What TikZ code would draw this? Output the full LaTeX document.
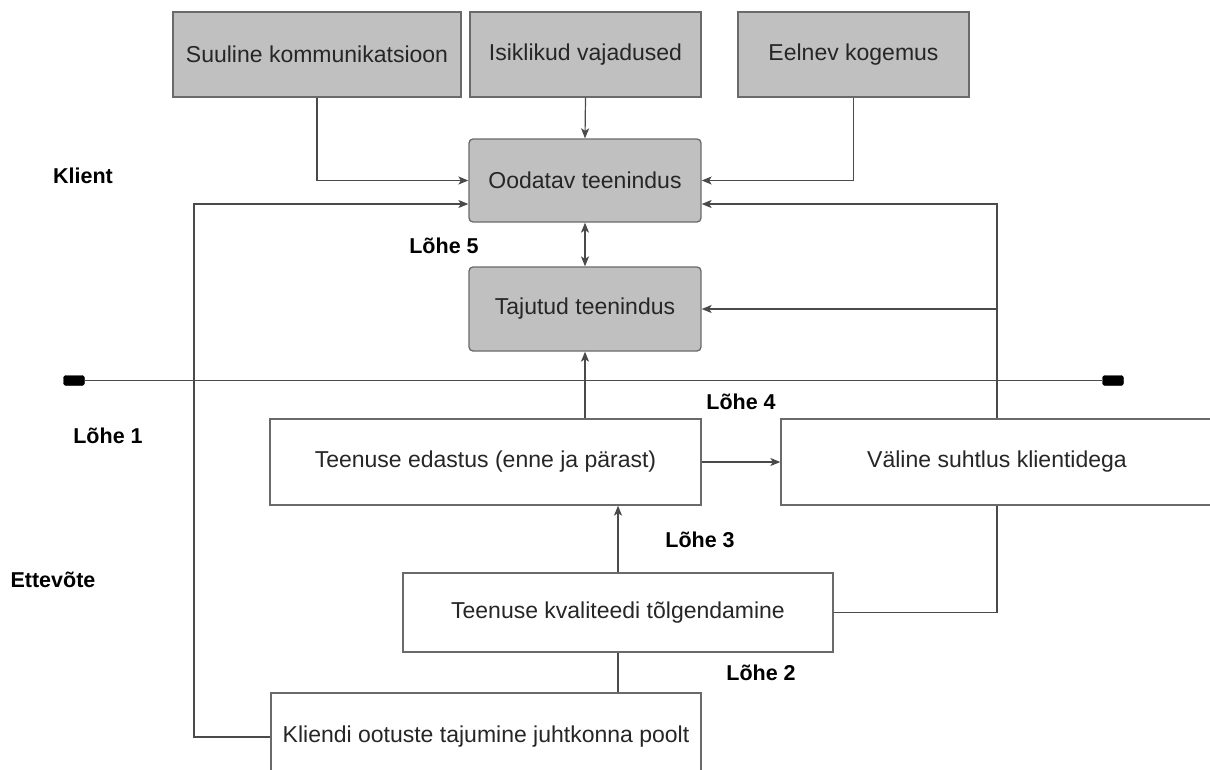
\documentclass[tikz,border=0pt]{standalone}
\usepackage{fontspec}
\setmainfont{Liberation Sans}
\usetikzlibrary{arrows.meta}
\definecolor{boxgray}{HTML}{C0C0C0}
\definecolor{edgegray}{HTML}{6A6A6A}
\definecolor{linegray}{HTML}{4A4A4A}
\definecolor{txt}{HTML}{262626}
\tikzset{
  base/.style={draw=edgegray, line width=1.3pt, inner sep=0pt, text=txt,
    font=\fontsize{23}{27}\selectfont},
  graybox/.style={base, fill=boxgray},
  grayround/.style={base, fill=boxgray, rounded corners=4pt},
  whitebox/.style={base, fill=white},
  lbl/.style={font=\fontsize{21.5}{25}\selectfont\bfseries, text=black, inner sep=0pt},
  conn/.style={draw=linegray, line width=1.2pt},
  arr/.style={conn, -{Stealth[length=10pt,width=8pt,inset=2.5pt]}},
  darr/.style={conn, {Stealth[length=10pt,width=8pt,inset=2.5pt]}-{Stealth[length=10pt,width=8pt,inset=2.5pt]}},
  endmark/.style={fill=black, draw=black, rounded corners=2.5pt, minimum width=21pt, minimum height=10pt, inner sep=0pt}
}
\begin{document}
\begin{tikzpicture}[x=1pt,y=-1pt]
\useasboundingbox (0,0) rectangle (1210,769);
\clip (0,0) rectangle (1210,769);
\fill[white] (0,0) rectangle (1210,769);

% top boxes
\node[graybox, minimum width=288pt, minimum height=85pt] (suul) at (317,54.5) {Suuline kommunikatsioon};
\node[graybox, minimum width=231pt, minimum height=85pt] (isik) at (585.5,54.5) {Isiklikud vajadused};
\node[graybox, minimum width=231pt, minimum height=85pt] (eeln) at (853.5,54.5) {Eelnev kogemus};

% client boxes
\node[grayround, minimum width=232pt, minimum height=83pt] (ood) at (585,180.5) {Oodatav teenindus};
\node[grayround, minimum width=232pt, minimum height=84pt] (taj) at (585,309) {Tajutud teenindus};

% company boxes
\node[whitebox, minimum width=431pt, minimum height=86pt] (ted) at (485.5,462) {Teenuse edastus (enne ja pärast)};
\node[whitebox, minimum width=432pt, minimum height=86pt] (val) at (997,462) {Väline suhtlus klientidega};
\node[whitebox, minimum width=430pt, minimum height=79pt] (kva) at (618,612.5) {Teenuse kvaliteedi tõlgendamine};
\node[whitebox, minimum width=430pt, minimum height=88pt] (kli) at (486,737) {Kliendi ootuste tajumine juhtkonna poolt};

% separator line
\node[endmark] (ml) at (74,380.5) {};
\node[endmark] (mr) at (1113,380.5) {};
\draw[conn] (ml.east) -- (mr.west);

% labels
\node[lbl] (klient) at (83,176) {Klient};
\node[lbl] (l5) at (444,246) {Lõhe 5};
\node[lbl] (l4) at (741,402) {Lõhe 4};
\node[lbl] (l1) at (108,436) {Lõhe 1};
\node[lbl] (l3) at (700,540) {Lõhe 3};
\node[lbl] (ett) at (53,580) {Ettevõte};
\node[lbl] (l2) at (761,673) {Lõhe 2};

% connectors
\coordinate (lc) at (194,204);
\coordinate (rc) at (997,204);
\draw[arr] (suul.south) |- (ood.west);
\draw[arr] (isik.south) -- (ood.north);
\draw[arr] (eeln.south) |- (ood.east);
\draw[darr] (ood.south) -- (taj.north);
\draw[arr] (kli.west) -| (lc) -- (ood.west |- lc);
\draw[arr] (val.north) -- (rc) -- (ood.east |- rc);
\draw[arr] (val.north |- taj.east) -- (taj.east);
\draw[arr] (taj.south |- ted.north) -- (taj.south);
\draw[arr] (ted.east) -- (val.west);
\draw[arr] (kva.north) -- (kva.north |- ted.south);
\draw[conn] (kva.east) -| (val.south);
\draw[conn] (kva.south) -- (kva.south |- kli.north);
\end{tikzpicture}
\end{document}
